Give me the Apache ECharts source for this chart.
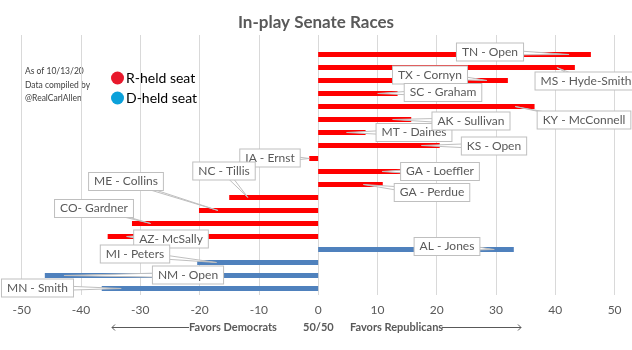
<!DOCTYPE html>
<html>
<head>
<meta charset="utf-8">
<script src="https://cdn.jsdelivr.net/npm/echarts@6/dist/echarts.min.js"></script>
<style>html,body{margin:0;padding:0;background:#fff;}#c{width:632px;height:350px;}</style>
</head>
<body>
<div id="c"></div>
<script>
// ---- data ----
const categories = ['', 'TN - Open', 'MS - Hyde-Smith', 'TX - Cornyn', 'SC - Graham', 'KY - McConnell',
  'AK - Sullivan', 'MT - Daines', 'KS - Open', 'IA - Ernst', 'GA - Loeffler', 'GA - Perdue',
  'NC - Tillis', 'ME - Collins', 'CO- Gardner', 'AZ- McSally', 'AL - Jones', 'MI - Peters',
  'NM - Open', 'MN - Smith'];
const rHeldValues = ['-', 46.0, 43.3, 32.0, 13.4, 36.5, 15.7, 8.0, 20.5, -1.5, 14.0, 10.9,
  -15.0, -20.1, -31.4, -35.5, '-', '-', '-', '-'];
const dHeldValues = ['-', '-', '-', '-', '-', '-', '-', '-', '-', '-', '-', '-',
  '-', '-', '-', '-', 33.0, -20.4, -46.1, -36.5];
const xMin = -50, xMax = 50, xStep = 10;
const noteLines = ['As of 10/13/20', 'Data compiled by', '@RealCarlAllen'];

// ---- callout layout (positions only): box centre [x, y] and pointer tip as share of bar length ----
const labelPos = {
  'TN - Open': [490, 52], 'MS - Hyde-Smith': [586, 81], 'TX - Cornyn': [430, 75],
  'SC - Graham': [443, 92.5], 'KY - McConnell': [584, 120], 'AK - Sullivan': [471, 121],
  'MT - Daines': [414, 132.5], 'KS - Open': [494, 146], 'IA - Ernst': [270, 158],
  'GA - Loeffler': [440, 171.5], 'GA - Perdue': [432, 192.5], 'NC - Tillis': [224, 171],
  'ME - Collins': [126, 181.5], 'CO- Gardner': [94, 208.5], 'AZ- McSally': [171, 239],
  'AL - Jones': [447, 246.5], 'MI - Peters': [135, 254], 'NM - Open': [188, 275],
  'MN - Smith': [37.5, 288]
};
const tipShare = {
  'TN - Open': 0.92, 'MS - Hyde-Smith': 0.93, 'TX - Cornyn': 0.89, 'SC - Graham': 0.75,
  'KY - McConnell': 0.91, 'AK - Sullivan': 0.80, 'MT - Daines': 0.60, 'KS - Open': 0.85,
  'IA - Ernst': 1.0, 'GA - Loeffler': 0.77, 'GA - Perdue': 0.70, 'NC - Tillis': 0.79,
  'ME - Collins': 0.84, 'CO- Gardner': 0.90, 'AZ- McSally': 0.91, 'AL - Jones': 0.90,
  'MI - Peters': 0.84, 'NM - Open': 0.93, 'MN - Smith': 0.91
};
// draw order of callouts (later = on top)
const drawOrder = ['MT - Daines', 'AK - Sullivan'];

const FONT = 'Lato, "Open Sans", sans-serif';
const LABEL_FONT = '12px ' + FONT;

// measure text width for callout box geometry
const measureCtx = document.createElement('canvas').getContext('2d');
measureCtx.font = LABEL_FONT;

// one callout per race, built from the series arrays
const calloutData = [];
categories.forEach((c, i) => {
  if (!c) return;
  const v = rHeldValues[i] !== '-' ? rHeldValues[i] : dHeldValues[i];
  calloutData.push([v, i]);
});
// reorder so MT is drawn before AK
calloutData.sort((a, b) => {
  const ia = drawOrder.indexOf(categories[a[1]]), ib = drawOrder.indexOf(categories[b[1]]);
  if (ia >= 0 && ib >= 0) return ia - ib;
  return 0;
});

function renderCallout(params, api) {
  const v = api.value(0), idx = api.value(1);
  const name = categories[idx];
  const pos = labelPos[name];
  const tip = api.coord([v * tipShare[name], idx]);
  const cx = pos[0], cy = pos[1];
  const w = measureCtx.measureText(name).width + 10, h = 18;
  const dx = tip[0] - cx, dy = tip[1] - cy;
  let pts;
  if (Math.abs(dx) / (w / 2) > Math.abs(dy) / (h / 2)) {
    const s = (w / 2) / Math.abs(dx);
    const px = cx + dx * s * 0.7, py = cy + dy * s * 0.7;
    pts = [[px, py - 2.2], [tip[0], tip[1]], [px, py + 2.2]];
  } else {
    const s = (h / 2) / Math.abs(dy);
    const px = cx + dx * s * 0.7, py = cy + dy * s * 0.7;
    pts = [[px - 2.8, py], [tip[0], tip[1]], [px + 2.8, py]];
  }
  return {
    type: 'group',
    children: [
      {type: 'polygon', shape: {points: pts}, style: {fill: '#fff', stroke: '#bfbfbf', lineWidth: 1}},
      {
        type: 'text', x: cx, y: cy,
        style: {
          text: name, align: 'center', verticalAlign: 'middle', fill: '#595959', font: LABEL_FONT,
          backgroundColor: '#fff', borderColor: '#bfbfbf', borderWidth: 1, padding: [3, 5, 2, 5]
        }
      }
    ]
  };
}

const chart = echarts.init(document.getElementById('c'), null, {renderer: 'canvas'});
chart.setOption({
  animation: false,
  backgroundColor: '#fff',
  title: {
    text: 'In-play Senate Races',
    left: 'center', top: 9,
    textStyle: {color: '#595959', fontSize: 17, fontWeight: 'bold', fontFamily: FONT}
  },
  legend: {
    orient: 'vertical',
    left: 106, top: 66,
    icon: 'circle',
    itemWidth: 13, itemHeight: 13, itemGap: 6,
    textStyle: {color: '#000', fontSize: 14, fontFamily: FONT, padding: [0, 0, 0, -3]},
    data: [
      {name: 'R-held seat', itemStyle: {color: '#E8192C'}},
      {name: 'D-held seat', itemStyle: {color: '#0BA1DA'}}
    ]
  },
  grid: {left: 21.7, right: 17.4, top: 35, bottom: 55, containLabel: false},
  xAxis: {
    type: 'value', min: xMin, max: xMax, interval: xStep,
    axisLine: {show: false}, axisTick: {show: false},
    splitLine: {lineStyle: {color: '#d9d9d9', width: 1}},
    axisLabel: {color: '#595959', fontSize: 12, fontFamily: FONT, margin: 9}
  },
  yAxis: {
    type: 'category', data: categories, inverse: true,
    axisLine: {show: false}, axisTick: {show: false}, axisLabel: {show: false},
    splitLine: {show: false}
  },
  series: [
    {
      name: 'R-held seat', type: 'bar', stack: 'all', barWidth: 5,
      itemStyle: {color: '#FF0000'},
      data: rHeldValues
    },
    {
      name: 'D-held seat', type: 'bar', stack: 'all', barWidth: 5,
      itemStyle: {color: '#4F81BD'},
      data: dHeldValues
    },
    {
      name: 'callouts', type: 'custom', z: 5, clip: false, silent: true,
      encode: {x: 0, y: 1},
      data: calloutData,
      renderItem: renderCallout
    }
  ],
  graphic: [
    {
      type: 'text', left: 25, top: 65,
      style: {text: noteLines.join('\n'), fill: '#404040', font: '8.5px ' + FONT, lineHeight: 13.3}
    },
    // bottom annotation
    {type: 'polyline', shape: {points: [[115, 324.5], [112, 327.5], [115, 330.5]]}, style: {stroke: '#595959', fill: null, lineWidth: 1}},
    {type: 'line', shape: {x1: 112, y1: 327.5, x2: 189, y2: 327.5}, style: {stroke: '#595959', lineWidth: 1}},
    {type: 'text', x: 189, y: 327.5, style: {text: 'Favors Democrats', fill: '#595959', font: 'bold 11px ' + FONT, verticalAlign: 'middle'}},
    {type: 'text', x: 303, y: 327.5, style: {text: '50/50', fill: '#595959', font: 'bold 11px ' + FONT, verticalAlign: 'middle'}},
    {type: 'text', x: 350, y: 327.5, style: {text: 'Favors Republicans', fill: '#595959', font: 'bold 11px ' + FONT, verticalAlign: 'middle'}},
    {type: 'line', shape: {x1: 442, y1: 327.5, x2: 521, y2: 327.5}, style: {stroke: '#595959', lineWidth: 1}},
    {type: 'polyline', shape: {points: [[518, 324.5], [521, 327.5], [518, 330.5]]}, style: {stroke: '#595959', fill: null, lineWidth: 1}}
  ]
});
</script>
</body>
</html>
